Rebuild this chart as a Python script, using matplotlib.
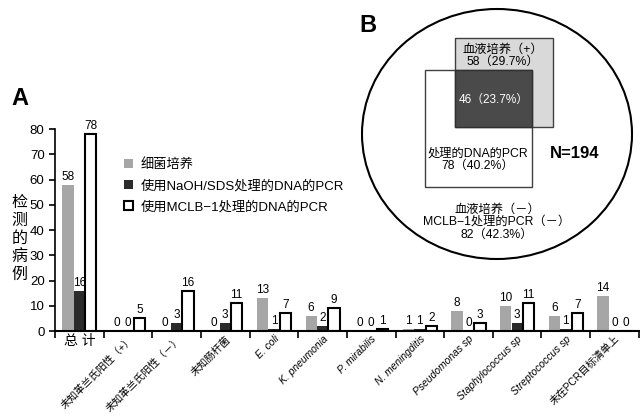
import matplotlib.pyplot as plt
from matplotlib.patches import Ellipse, Rectangle
import numpy as np

plt.rcParams['font.family'] = ['Liberation Sans', 'Noto Sans CJK SC', 'DejaVu Sans']

categories = ["总 计", "未知革兰氏阳性（+）", "未知革兰氏阳性（－）", "未知肠杆菌",
              "E. coli", "K. pneumonia", "P. mirabilis", "N. meningditis",
              "Pseudomonas sp", "Staphylococcus sp", "Streptococcus sp", "未在PCR目标清单上"]
italic_cats = ["E. coli", "K. pneumonia", "P. mirabilis", "N. meningditis",
               "Pseudomonas sp", "Staphylococcus sp", "Streptococcus sp"]
culture = [58, 0, 0, 0, 13, 6, 0, 1, 8, 10, 6, 14]
naoh_pcr = [16, 0, 3, 3, 1, 2, 0, 1, 0, 3, 1, 0]
mclb_pcr = [78, 5, 16, 11, 7, 9, 1, 2, 3, 11, 7, 0]
series_names = ["细菌培养", "使用NaOH/SDS处理的DNA的PCR", "使用MCLB−1处理的DNA的PCR"]

# venn texts
venn_top = ["血液培养（+）", "58（29.7%）"]
venn_mid = "46（23.7%）"
venn_left = ["处理的DNA的PCR", "78（40.2%）"]
venn_bottom = ["血液培养（－）", "MCLB−1处理的PCR（－）", "82（42.3%）"]
venn_n = "N=194"

fig = plt.figure(figsize=(6.4, 4.18), dpi=100)
ax = fig.add_axes([0.086, 0.208, 0.912, 0.483])

x = np.arange(len(categories))
w = 0.23
b1 = ax.bar(x - 0.235, culture, w, color='#a6a6a6', label=series_names[0])
b2 = ax.bar(x, naoh_pcr, w, color='#2b2b2b', label=series_names[1])
b3 = ax.bar(x + 0.235, mclb_pcr, w, color='white', edgecolor='black', linewidth=1.5,
            label=series_names[2])
for bars in (b1, b2, b3):
    for r in bars:
        h = r.get_height()
        ax.text(r.get_x() + r.get_width() / 2, h + 0.8, str(int(h)),
                ha='center', va='bottom', fontsize=8.5)

ax.set_xlim(-0.5, len(categories) - 0.5)
ax.set_ylim(0, 80)
ax.set_yticks(range(0, 81, 10))
ax.tick_params(axis='y', labelsize=9.5, length=4, width=1.2)
ax.spines['top'].set_visible(False)
ax.spines['right'].set_visible(False)
ax.spines['left'].set_linewidth(1.2)
ax.spines['bottom'].set_linewidth(1.5)

ax.set_xticks(np.arange(len(categories) + 1) - 0.5, minor=False)
ax.set_xticklabels([])
ax.tick_params(axis='x', length=5, width=1.2)
ax.set_xticks(x, minor=True)
ax.set_xticklabels(categories, minor=True)
ax.tick_params(axis='x', which='minor', length=0, labelsize=7.4, pad=2)
for lbl in ax.get_xticklabels(minor=True):
    t = lbl.get_text()
    if t == "总 计":
        lbl.set_fontsize(10)
        continue
    lbl.set_rotation(45)
    lbl.set_ha('right')
    lbl.set_rotation_mode('anchor')
    if t in italic_cats:
        lbl.set_style('italic')

fig.text(0.03, 0.43, "检\n测\n的\n病\n例", fontsize=11.5, ha='center', va='center', linespacing=1.25)
fig.text(0.018, 0.765, "A", fontsize=17, fontweight='bold', ha='left', va='center')

leg = fig.legend(handles=[b1, b2, b3], loc='upper left', bbox_to_anchor=(0.175, 0.65),
                 frameon=False, fontsize=9.5, handlelength=0.7, handleheight=0.7,
                 labelspacing=0.65, handletextpad=0.6)

# panel B: venn drawn in pixel space
ov = fig.add_axes([0, 0, 1, 1])
ov.set_xlim(0, 640)
ov.set_ylim(418, 0)
ov.axis('off')
ov.add_patch(Ellipse((497, 134), 270, 250, fill=False, edgecolor='black', linewidth=1.5))
ov.add_patch(Rectangle((455, 38), 98, 89, facecolor='#d9d9d9', edgecolor='#404040', linewidth=1))
ov.add_patch(Rectangle((425, 70), 107, 117, facecolor='none', edgecolor='#404040', linewidth=1))
ov.add_patch(Rectangle((455, 70), 77, 57, facecolor='#4a4a4a', edgecolor='#303030', linewidth=1))
ov.text(503, 56, "\n".join(venn_top), ha='center', va='center', fontsize=8.8, linespacing=1.05)
ov.text(494, 100, venn_mid, ha='center', va='center', fontsize=8.5, color='white')
ov.text(478, 160, "\n".join(venn_left), ha='center', va='center', fontsize=8.8, linespacing=1.05)
ov.text(575, 153, venn_n, ha='center', va='center', fontsize=12, fontweight='bold')
ov.text(497, 222, "\n".join(venn_bottom), ha='center', va='center', fontsize=8.8, linespacing=1.05)
ov.text(368, 25, "B", fontsize=17, fontweight='bold', ha='center', va='center')

fig.savefig("out.png", dpi=100)
